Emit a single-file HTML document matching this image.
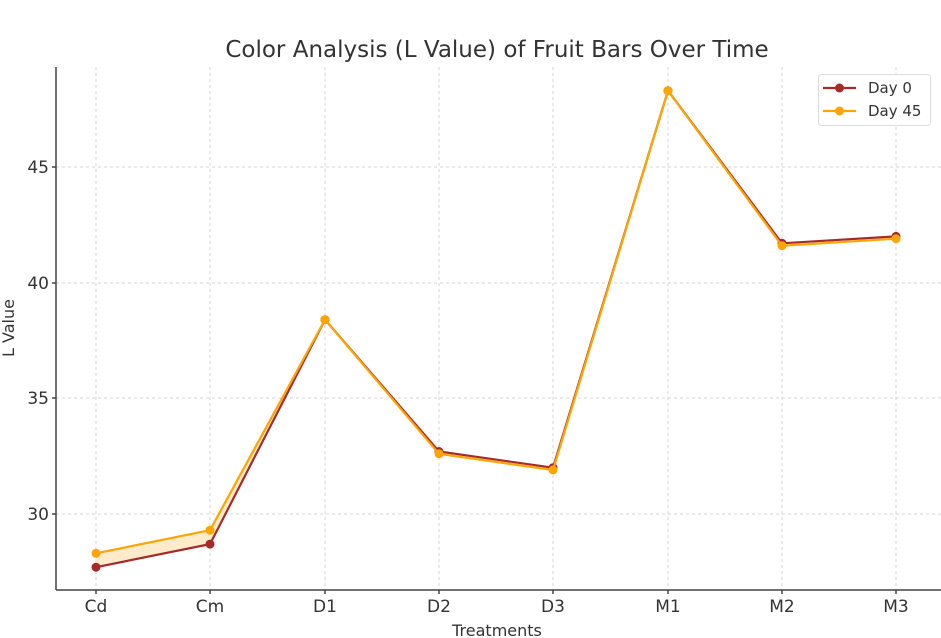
<!DOCTYPE html><html><head><style>body{margin:0;background:#fff}svg{display:block}</style></head><body>
<svg width="941" height="638" xmlns="http://www.w3.org/2000/svg" font-family="DejaVu Sans, Liberation Sans, sans-serif">
<text x="497" y="57" text-anchor="middle" font-size="23" fill="#333">Color Analysis (L Value) of Fruit Bars Over Time</text>
<g stroke="#d4d4d4" stroke-width="1" stroke-dasharray="3,3">
<line x1="96" y1="67" x2="96" y2="590"/><line x1="210" y1="67" x2="210" y2="590"/><line x1="325" y1="67" x2="325" y2="590"/><line x1="439" y1="67" x2="439" y2="590"/><line x1="553" y1="67" x2="553" y2="590"/><line x1="668" y1="67" x2="668" y2="590"/><line x1="782" y1="67" x2="782" y2="590"/><line x1="896" y1="67" x2="896" y2="590"/>
<line x1="56" y1="167" x2="941" y2="167"/><line x1="56" y1="283" x2="941" y2="283"/><line x1="56" y1="398" x2="941" y2="398"/><line x1="56" y1="514" x2="941" y2="514"/>
</g>
<polygon points="96,567.2 210,544.1 325,319.7 325,319.7 210,530.2 96,553.3" fill="#fde6bf" fill-opacity="0.8"/>
<polyline points="96,567.2 210,544.1 325,319.7 439,451.5 553,467.7 668,90.7 782,243.3 896,236.4" fill="none" stroke="#a52a2a" stroke-width="2.2"/>
<g fill="#a52a2a"><circle cx="96" cy="567.2" r="4.5"/><circle cx="210" cy="544.1" r="4.5"/><circle cx="325" cy="319.7" r="4.5"/><circle cx="439" cy="451.5" r="4.5"/><circle cx="553" cy="467.7" r="4.5"/><circle cx="668" cy="90.7" r="4.5"/><circle cx="782" cy="243.3" r="4.5"/><circle cx="896" cy="236.4" r="4.5"/></g>
<polyline points="96,553.3 210,530.2 325,319.7 439,453.8 553,470 668,90.7 782,245.7 896,238.7" fill="none" stroke="#ffa500" stroke-width="2.2"/>
<g fill="#ffa500"><circle cx="96" cy="553.3" r="4.5"/><circle cx="210" cy="530.2" r="4.5"/><circle cx="325" cy="319.7" r="4.5"/><circle cx="439" cy="453.8" r="4.5"/><circle cx="553" cy="470" r="4.5"/><circle cx="668" cy="90.7" r="4.5"/><circle cx="782" cy="245.7" r="4.5"/><circle cx="896" cy="238.7" r="4.5"/></g>
<g stroke="#444" stroke-width="1.5"><line x1="56" y1="67" x2="56" y2="590"/><line x1="56" y1="590" x2="941" y2="590"/>
<line x1="52" y1="167" x2="56" y2="167"/><line x1="52" y1="283" x2="56" y2="283"/><line x1="52" y1="398" x2="56" y2="398"/><line x1="52" y1="514" x2="56" y2="514"/>
<line x1="96" y1="590" x2="96" y2="594"/><line x1="210" y1="590" x2="210" y2="594"/><line x1="325" y1="590" x2="325" y2="594"/><line x1="439" y1="590" x2="439" y2="594"/><line x1="553" y1="590" x2="553" y2="594"/><line x1="668" y1="590" x2="668" y2="594"/><line x1="782" y1="590" x2="782" y2="594"/><line x1="896" y1="590" x2="896" y2="594"/></g>
<g font-size="17" fill="#333" text-anchor="end"><text x="49" y="173">45</text><text x="49" y="289">40</text><text x="49" y="404">35</text><text x="49" y="520">30</text></g>
<g font-size="17" fill="#333" text-anchor="middle"><text x="96" y="612">Cd</text><text x="210" y="612">Cm</text><text x="325" y="612">D1</text><text x="439" y="612">D2</text><text x="553" y="612">D3</text><text x="668" y="612">M1</text><text x="782" y="612">M2</text><text x="896" y="612">M3</text></g>
<text x="497" y="636" text-anchor="middle" font-size="16" fill="#333">Treatments</text>
<text transform="translate(14,328) rotate(-90)" text-anchor="middle" font-size="16" fill="#333">L Value</text>
<rect x="818.5" y="74.5" width="112" height="51" rx="3" fill="#fff" fill-opacity="0.85" stroke="#ddd"/>
<line x1="823" y1="88" x2="856" y2="88" stroke="#a52a2a" stroke-width="2.2"/><circle cx="839.5" cy="88" r="4.5" fill="#a52a2a"/>
<line x1="823" y1="111" x2="856" y2="111" stroke="#ffa500" stroke-width="2.2"/><circle cx="839.5" cy="111" r="4.5" fill="#ffa500"/>
<text x="868" y="93" font-size="15" fill="#333">Day 0</text><text x="868" y="116" font-size="15" fill="#333">Day 45</text>
</svg></body></html>
